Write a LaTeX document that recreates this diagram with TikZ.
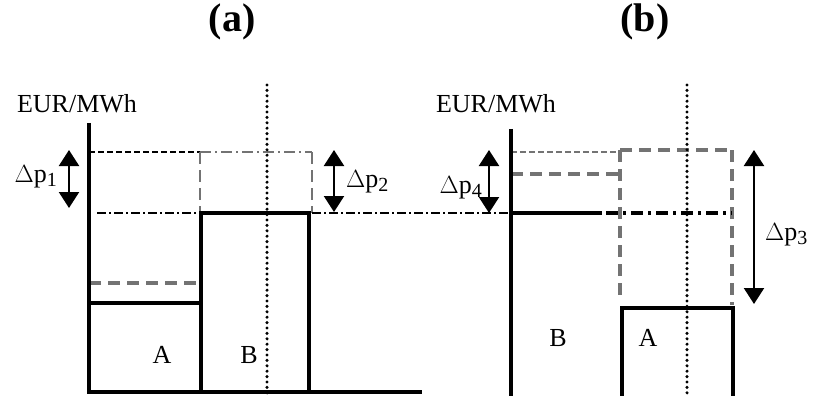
\documentclass[tikz,border=0pt]{standalone}
\usepackage{fontspec}
\setmainfont{Liberation Serif}
\usetikzlibrary{arrows.meta}
\newcommand{\mysub}[1]{\raisebox{-0.35ex}{\fontsize{20}{20}\selectfont #1}}
\tikzset{
  axisline/.style={line width=3.2pt, black},
  thindash/.style={line width=1.2pt, black, dash pattern=on 6pt off 3pt},
  thingraydash/.style={line width=1.5pt, black!55, dash pattern=on 6pt off 3pt},
  graydash/.style={line width=3.2pt, black!55, dash pattern=on 12pt off 7pt},
  graydashmid/.style={line width=2pt, black!55, dash pattern=on 12pt off 6pt},
  graydashdot/.style={line width=2.8pt, black!55, dash pattern=on 11pt off 4pt on 2pt off 4pt},
  dashdotthin/.style={line width=1.3pt, black, dash pattern=on 9pt off 3pt on 2pt off 3pt},
  dashdotthick/.style={line width=3.2pt, black, dash pattern=on 12pt off 5pt on 3pt off 5pt},
  dotline/.style={line width=3.4pt, black, dash pattern=on 0pt off 5.4pt, line cap=round},
  darrow/.style={line width=2.2pt, {Triangle[width=20pt,length=16pt]}-{Triangle[width=20pt,length=16pt]}},
  lab/.style={font=\fontsize{26}{28}\selectfont, inner sep=0pt},
  title/.style={font=\fontsize{40}{42}\selectfont\bfseries, inner sep=0pt}
}
\begin{document}
\begin{tikzpicture}[x=1pt,y=-1pt]
\useasboundingbox (0,0) rectangle (831,396);
% titles
\node[title] (ta) at (232,22) {(a)};
\node[title] (tb) at (645,22) {(b)};
\node[lab] (ya) at (77,104) {EUR/MWh};
\node[lab] (yb) at (496,104) {EUR/MWh};

% ---------- panel (a) ----------
\draw[thindash] (89,152) -- (200,152);
\draw[graydashdot] (200,152) -- (312,152);
\draw[graydashmid] (200,152) -- (200,213);
\draw[graydashmid] (312,152) -- (312,213);
\draw[dashdotthin] (97,213) -- (200,213);
\draw[dashdotthin] (312,213) -- (511,213);
\draw[graydash] (89,283) -- (200,283);
\draw[axisline] (89,303) -- (201,303);
\draw[axisline] (201,392) -- (201,213) -- (309,213) -- (309,392);
\draw[dotline] (267,85) -- (267,393);
\draw[axisline] (89,123) -- (89,392) -- (422,392);
\node[lab] (la) at (162,355) {A};
\node[lab] (lb) at (249,355) {B};
\coordinate (p1t) at (69,150);
\coordinate (p1b) at (69,208);
\draw[darrow] (p1t) -- (p1b);
\node[lab, anchor=east] (dp1) at (57,177) {$\Delta$p\mysub{1}};
\coordinate (p2t) at (334,150);
\coordinate (p2b) at (334,212);
\draw[darrow] (p2t) -- (p2b);
\node[lab, anchor=west] (dp2) at (346,182) {$\Delta$p\mysub{2}};

% ---------- panel (b) ----------
\draw[thingraydash] (511,152) -- (620,152);
\draw[graydash] (511,174) -- (620,174);
\draw[graydash] (620,150) -- (732,150);
\draw[graydash] (620,150) -- (620,300);
\draw[graydash] (732,150) -- (732,305);
\draw[axisline] (511,213) -- (602,213);
\draw[dashdotthick] (606,213) -- (732,213);
\draw[axisline] (622,396) -- (622,308) -- (733,308) -- (733,396);
\draw[dotline] (687,85) -- (687,396);
\draw[axisline] (511,129) -- (511,396);
\node[lab] (lbb) at (558,338) {B};
\node[lab] (lab) at (648,338) {A};
\coordinate (p4t) at (489,150);
\coordinate (p4b) at (489,213);
\draw[darrow] (p4t) -- (p4b);
\node[lab, anchor=east] (dp4) at (482,188) {$\Delta$p\mysub{4}};
\coordinate (p3t) at (754,150);
\coordinate (p3b) at (754,304);
\draw[darrow] (p3t) -- (p3b);
\node[lab, anchor=west] (dp3) at (765,235) {$\Delta$p\mysub{3}};
\end{tikzpicture}
\end{document}
